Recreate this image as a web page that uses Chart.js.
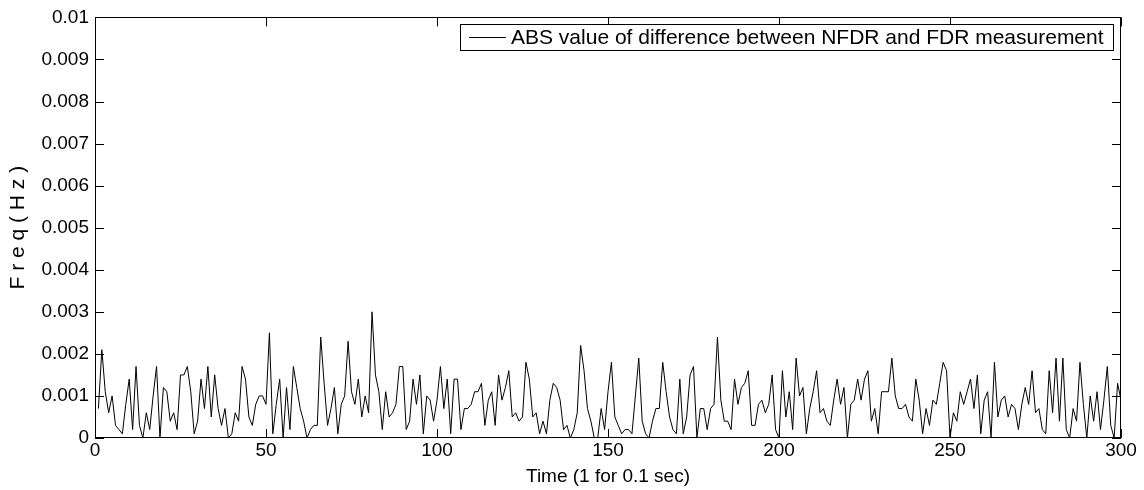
<!DOCTYPE html>
<html><head><meta charset="utf-8">
<script src="https://cdn.jsdelivr.net/npm/chart.js@4/dist/chart.umd.min.js"></script>
<style>html,body{margin:0;padding:0;background:#fff}#wrap{width:1144px;height:490px}</style>
</head><body><div id="wrap"><canvas id="c" width="1144" height="490"></canvas></div>
<script>
const seriesLabel = 'ABS value of difference between NFDR and FDR measurement';
const absDiff = [
0.0007,0.0021,0.0011,0.0006,0.0010,0.0003,0.0002,0.0001,0.0008,0.0014,
0.0002,0.0017,0.0003,0.0000,0.0006,0.0002,0.0010,0.0017,0.0000,0.0012,
0.0011,0.0004,0.0006,0.0002,0.0015,0.0015,0.0017,0.0011,0.0001,0.0004,
0.0014,0.0007,0.0017,0.0005,0.0015,0.0007,0.0003,0.0007,0.0000,0.0001,
0.0006,0.0004,0.0017,0.0014,0.0005,0.0003,0.0008,0.0010,0.0010,0.0008,
0.0025,0.0001,0.0008,0.0014,0.0000,0.0012,0.0002,0.0017,0.0012,0.0007,
0.0004,0.0000,0.0002,0.0003,0.0003,0.0024,0.0013,0.0003,0.0007,0.0012,
0.0001,0.0008,0.0010,0.0023,0.0011,0.0008,0.0014,0.0005,0.0010,0.0006,
0.0030,0.0015,0.0011,0.0002,0.0011,0.0005,0.0006,0.0008,0.0017,0.0017,
0.0002,0.0004,0.0014,0.0008,0.0015,0.0001,0.0010,0.0009,0.0004,0.0009,
0.0017,0.0007,0.0014,0.0001,0.0014,0.0014,0.0002,0.0007,0.0007,0.0008,
0.0011,0.0011,0.0013,0.0003,0.0009,0.0011,0.0003,0.0015,0.0009,0.0012,
0.0016,0.0005,0.0006,0.0004,0.0005,0.0018,0.0014,0.0005,0.0006,0.0001,
0.0004,0.0001,0.0009,0.0013,0.0012,0.0009,0.0002,0.0003,0.0000,0.0002,
0.0006,0.0022,0.0016,0.0007,0.0004,0.0000,0.0000,0.0007,0.0002,0.0011,
0.0018,0.0005,0.0003,0.0001,0.0002,0.0002,0.0001,0.0010,0.0019,0.0004,
0.0001,0.0000,0.0004,0.0007,0.0007,0.0018,0.0011,0.0005,0.0002,0.0001,
0.0014,0.0001,0.0005,0.0015,0.0017,0.0000,0.0007,0.0007,0.0002,0.0007,
0.0008,0.0024,0.0009,0.0004,0.0004,0.0002,0.0014,0.0008,0.0012,0.0013,
0.0016,0.0003,0.0003,0.0008,0.0009,0.0006,0.0008,0.0015,0.0002,0.0000,
0.0016,0.0005,0.0011,0.0002,0.0019,0.0010,0.0012,0.0001,0.0007,0.0011,
0.0016,0.0006,0.0007,0.0004,0.0003,0.0009,0.0014,0.0008,0.0012,0.0000,
0.0008,0.0009,0.0014,0.0009,0.0014,0.0016,0.0004,0.0007,0.0001,0.0011,
0.0011,0.0011,0.0019,0.0010,0.0007,0.0007,0.0008,0.0005,0.0004,0.0014,
0.0009,0.0001,0.0007,0.0003,0.0009,0.0008,0.0013,0.0018,0.0016,0.0000,
0.0006,0.0004,0.0011,0.0008,0.0011,0.0014,0.0007,0.0015,0.0001,0.0009,
0.0011,0.0000,0.0018,0.0005,0.0009,0.0010,0.0005,0.0008,0.0007,0.0002,
0.0008,0.0012,0.0008,0.0016,0.0006,0.0007,0.0002,0.0001,0.0016,0.0006,
0.0019,0.0004,0.0019,0.0002,0.0000,0.0007,0.0004,0.0018,0.0008,0.0000,
0.0010,0.0004,0.0011,0.0002,0.0009,0.0017,0.0003,0.0000,0.0013,0.0009
];
const timeIndex = absDiff.map((_, i) => i + 1);
const xTicks = [0, 50, 100, 150, 200, 250, 300];
const yTicks = [0, 0.001, 0.002, 0.003, 0.004, 0.005, 0.006, 0.007, 0.008, 0.009, 0.01];
const yTickLabels = ['0', '0.001', '0.002', '0.003', '0.004', '0.005', '0.006', '0.007', '0.008', '0.009', '0.01'];
const xTitle = 'Time (1 for 0.1 sec)';
const yTitle = 'F r e q ( H z )';

const FONT = 'Arial, "Liberation Sans", Helvetica, sans-serif';
const FS = 19;
const LFS = 21;

const frame = {
  id: 'frame',
  afterDatasetsDraw(chart) {
    const {ctx, chartArea: a, scales: {x, y}} = chart;
    ctx.save();
    ctx.strokeStyle = '#000';
    ctx.lineWidth = 1;
    ctx.strokeRect(Math.round(a.left) + 0.5, Math.round(a.top) + 0.5, Math.round(a.right - a.left) - 1, Math.round(a.bottom - a.top) - 1);
    const TL = 9;
    ctx.beginPath();
    xTicks.forEach(v => {
      const px = Math.round(x.getPixelForValue(v)) + 0.5;
      ctx.moveTo(px, a.bottom); ctx.lineTo(px, a.bottom - TL);
      ctx.moveTo(px, a.top); ctx.lineTo(px, a.top + TL);
    });
    yTicks.forEach(v => {
      const py = Math.round(y.getPixelForValue(v)) + 0.5;
      ctx.moveTo(a.left, py); ctx.lineTo(a.left + TL, py);
      ctx.moveTo(a.right, py); ctx.lineTo(a.right - TL, py);
    });
    ctx.stroke();
    // legend box
    ctx.font = LFS + 'px ' + FONT;
    const label = chart.data.datasets[0].label;
    const tw = ctx.measureText(label).width;
    const right = Math.round(a.right) - 8;
    const top = Math.round(a.top) + 7;
    const h = 26;
    const w = tw + 60;
    const left = Math.round(right - w);
    ctx.fillStyle = '#fff';
    ctx.fillRect(left, top, right - left, h);
    ctx.strokeRect(left + 0.5, top + 0.5, right - left, h);
    const cy = top + h / 2 + 0.5;
    ctx.beginPath();
    ctx.moveTo(left + 9, cy); ctx.lineTo(left + 46, cy);
    ctx.stroke();
    ctx.fillStyle = '#000';
    ctx.textBaseline = 'middle';
    ctx.textAlign = 'left';
    ctx.fillText(label, left + 51, cy + 1);
    ctx.restore();
  }
};

new Chart(document.getElementById('c'), {
  type: 'line',
  data: {
    labels: timeIndex,
    datasets: [{
      label: seriesLabel,
      data: timeIndex.map((t, i) => ({x: t, y: absDiff[i]})),
      borderColor: '#000',
      borderWidth: 1,
      pointRadius: 0,
      tension: 0,
      fill: false
    }]
  },
  options: {
    responsive: false,
    animation: false,
    devicePixelRatio: 1,
    layout: {padding: {top: 15, right: 23, left: 0, bottom: 0}},
    plugins: {legend: {display: false}, tooltip: {enabled: false}},
    scales: {
      x: {
        type: 'linear', min: 0, max: 300,
        afterBuildTicks: s => { s.ticks = xTicks.map(v => ({value: v})); },
        afterFit: s => { s.height = 52; },
        grid: {display: false, drawTicks: false},
        border: {display: false},
        ticks: {color: '#000', font: {family: FONT, size: FS}, padding: 1, maxRotation: 0, autoSkip: false},
        title: {display: true, text: xTitle, color: '#000', font: {family: FONT, size: FS, lineHeight: 1.1}, padding: {top: 0, bottom: 3}}
      },
      y: {
        type: 'linear', min: 0, max: 0.01,
        afterBuildTicks: s => { s.ticks = yTicks.map(v => ({value: v})); },
        afterFit: s => { s.width = 95; },
        grid: {display: false, drawTicks: false},
        border: {display: false},
        ticks: {color: '#000', font: {family: FONT, size: FS}, padding: 6, autoSkip: false,
          callback: (v) => { const i = yTicks.findIndex(t => Math.abs(t - v) < 1e-9); return i >= 0 ? yTickLabels[i] : ''; }},
        title: {display: true, text: yTitle, color: '#000', font: {family: FONT, size: 21, lineHeight: 1.1}, padding: {top: 7, bottom: 0}}
      }
    }
  },
  plugins: [frame]
});
</script>
</body></html>
